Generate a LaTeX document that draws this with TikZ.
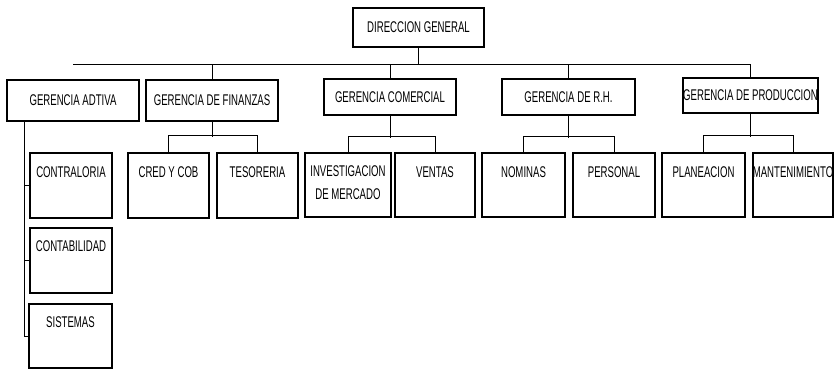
\documentclass[tikz,border=0pt]{standalone}
\usepackage{fontspec}
\newfontfamily\narrow[FakeStretch=0.62]{Liberation Sans}
\begin{document}
\begin{tikzpicture}[x=1pt,y=-1pt,
  box/.style={draw,line width=1.4pt,rectangle,inner sep=0pt,font=\narrow\fontsize{15.5}{17}\selectfont},
  txt/.style={inner sep=0pt,font=\narrow\fontsize{15.5}{23}\selectfont,align=center},
  conn/.style={line width=0.8pt}]
\useasboundingbox (0,0) rectangle (834,369);
% top
\node[box,minimum width=131pt,minimum height=39pt] (dg) at (418.5,27.5) {DIRECCION GENERAL};
% gerencias
\node[box,minimum width=132pt,minimum height=41pt] (adt) at (73,100.5) {GERENCIA ADTIVA};
\node[box,minimum width=132pt,minimum height=41pt] (fin) at (212,100.5) {GERENCIA DE FINANZAS};
\node[box,minimum width=132pt,minimum height=36pt] (com) at (390,97) {GERENCIA COMERCIAL};
\node[box,minimum width=133pt,minimum height=36pt] (rh) at (568.5,97) {GERENCIA DE R.H.};
\node[box,minimum width=135pt,minimum height=35pt] (prod) at (750.5,95.5) {GERENCIA DE PRODUCCION};
% sub boxes
\node[box,minimum width=82pt,minimum height=65pt] (contra) at (71,185.5) {};
\node[box,minimum width=82pt,minimum height=65pt] (conta) at (71,260.5) {};
\node[box,minimum width=83pt,minimum height=64pt] (sist) at (70.5,336) {};
\node[box,minimum width=81pt,minimum height=65pt] (cred) at (168.5,185.5) {};
\node[box,minimum width=81pt,minimum height=65pt] (tes) at (257.5,185.5) {};
\node[box,minimum width=86pt,minimum height=64pt] (inv) at (348,185) {};
\node[box,minimum width=80pt,minimum height=64pt] (ven) at (435,185) {};
\node[box,minimum width=83pt,minimum height=64pt] (nom) at (523.5,185) {};
\node[box,minimum width=82pt,minimum height=64pt] (pers) at (614,185) {};
\node[box,minimum width=83pt,minimum height=64pt] (plan) at (703.5,185) {};
\node[box,minimum width=80pt,minimum height=64pt] (mant) at (793,185) {};
% texts
\node[txt] (tcontra) at ([yshift=-20pt]contra.north) {CONTRALORIA};
\node[txt] (tconta) at ([yshift=-19pt]conta.north) {CONTABILIDAD};
\node[txt] (tsist) at ([yshift=-19pt]sist.north) {SISTEMAS};
\node[txt] (tcred) at ([yshift=-20pt]cred.north) {CRED Y COB};
\node[txt] (ttes) at ([yshift=-20pt]tes.north) {TESORERIA};
\node[txt] (tinv) at ([yshift=-30.5pt]inv.north) {INVESTIGACION\\DE MERCADO};
\node[txt] (tven) at ([yshift=-20pt]ven.north) {VENTAS};
\node[txt] (tnom) at ([yshift=-20pt]nom.north) {NOMINAS};
\node[txt] (tpers) at ([yshift=-20pt]pers.north) {PERSONAL};
\node[txt] (tplan) at ([yshift=-20pt]plan.north) {PLANEACION};
\node[txt] (tmant) at ([yshift=-20pt]mant.north) {MANTENIMIENTO};
% bus
\coordinate (busL) at (73,64);
\coordinate (busR) at (750.5,64);
\draw[conn] (busL) -- (busR);
\draw[conn] (dg.south) -- (dg.south |- busL);
\foreach \n in {fin,com,rh,prod} \draw[conn] (\n.north |- busL) -- (\n.north);
% finanzas
\draw[conn] (fin.south) -- ++(0,15);
\draw[conn] (cred.north) -- ++(0,-17) -| (tes.north);
% comercial
\draw[conn] (com.south) -- ++(0,22);
\draw[conn] (inv.north) -- ++(0,-16) -| (ven.north);
% rh
\draw[conn] (rh.south) -- ++(0,22);
\draw[conn] (nom.north) -- ++(0,-16) -| (pers.north);
% produccion
\draw[conn] (prod.south) -- ++(0,23);
\draw[conn] (plan.north) -- ++(0,-17) -| (mant.north);
% administrativa
\coordinate (av) at (24,121);
\draw[conn] (av) -- (av |- sist.west) -- (sist.west);
\draw[conn] (av |- contra.west) -- (contra.west);
\draw[conn] (av |- conta.west) -- (conta.west);
\end{tikzpicture}
\end{document}
